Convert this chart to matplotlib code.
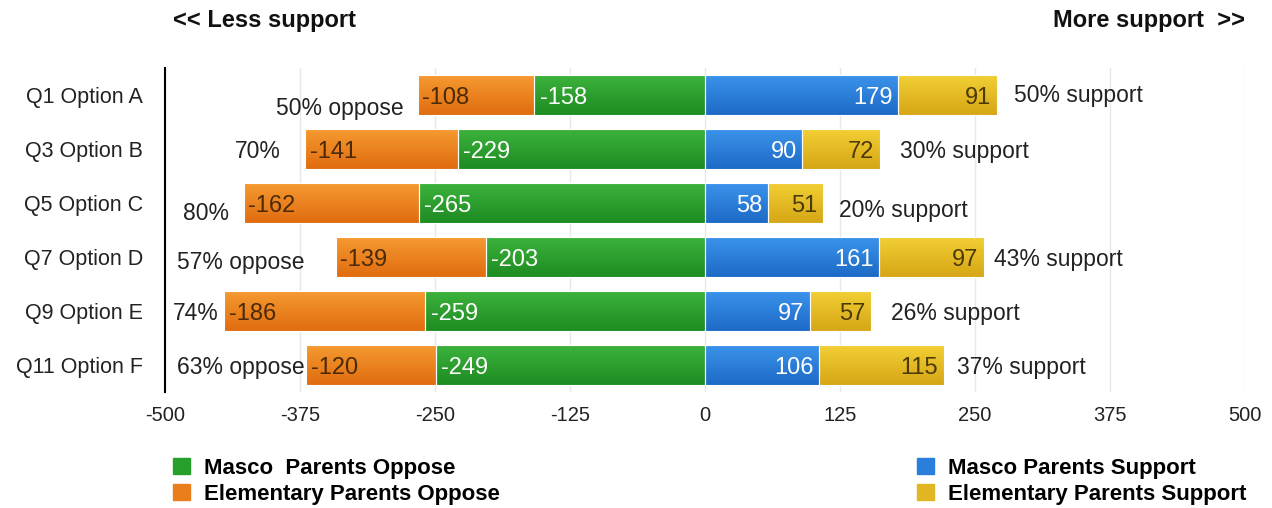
import matplotlib.pyplot as plt
import numpy as np
from matplotlib.patches import Patch
from matplotlib.colors import LinearSegmentedColormap

plt.rcParams['font.family'] = ['Liberation Sans', 'DejaVu Sans']

questions = ['Q1 Option A', 'Q3 Option B', 'Q5 Option C',
             'Q7 Option D', 'Q9 Option E', 'Q11 Option F']
masco_oppose = [-158, -229, -265, -203, -259, -249]
elem_oppose = [-108, -141, -162, -139, -186, -120]
masco_support = [179, 90, 58, 161, 97, 106]
elem_support = [91, 72, 51, 97, 57, 115]
oppose_labels = ['50% oppose', '70%', '80%', '57% oppose', '74%', '63% oppose']
support_labels = ['50% support', '30% support', '20% support',
                  '43% support', '26% support', '37% support']
ticks = [-500, -375, -250, -125, 0, 125, 250, 375, 500]

# hand placed annotation anchors (data units), as in the source chart
oppose_x = [-279, -393, -441, -371, -450, -371]
oppose_dy = [0.2, 0, 0.15, 0.05, 0, 0]
support_x = [286, 181, 124, 268, 172, 233]
support_dy = [-0.03, 0, 0.09, 0, 0, 0]

# (top, bottom) shades of the gradient fill
c_green = ('#3cb23c', '#1e8c22')
c_orange = ('#f59a30', '#e06c10')
c_blue = ('#3b93ea', '#1d6ac6')
c_yellow = ('#f2cf34', '#d6a616')

fig = plt.figure(figsize=(12.72, 5.08), dpi=100)
ax = fig.add_axes([165 / 1272, 1 - 392 / 508, 1080 / 1272, 324 / 508])

y = list(range(len(questions)))
h = 0.74
grad = np.linspace(0, 1, 64).reshape(-1, 1)


def shaded_bars(vals, left, cols):
    bars = ax.barh(y, vals, left=left, height=h, color=cols[1], edgecolor='white', linewidth=0.8)
    cmap = LinearSegmentedColormap.from_list('g', list(cols))
    for p in bars:
        x0, y0, w, hh = p.get_x(), p.get_y(), p.get_width(), p.get_height()
        ax.imshow(grad, extent=(x0, x0 + w, y0 + hh, y0), cmap=cmap, aspect='auto',
                  origin='upper', zorder=2, interpolation='bilinear')
        p.set_facecolor('none')
        p.set_zorder(2.5)


shaded_bars(masco_oppose, None, c_green)
shaded_bars(elem_oppose, masco_oppose, c_orange)
shaded_bars(masco_support, None, c_blue)
shaded_bars(elem_support, masco_support, c_yellow)

fs = 17
for i in y:
    mo, eo, ms, es = masco_oppose[i], elem_oppose[i], masco_support[i], elem_support[i]
    ax.text(mo + 5, i, str(mo), color='white', fontsize=fs, va='center_baseline', ha='left', zorder=3)
    ax.text(mo + eo + 4, i, str(eo), color='#4a2a08', fontsize=fs, va='center_baseline', ha='left', zorder=3)
    ax.text(ms - 5, i, str(ms), color='white', fontsize=fs, va='center_baseline', ha='right', zorder=3)
    ax.text(ms + es - 5, i, str(es), color='#4a3a08', fontsize=fs, va='center_baseline', ha='right', zorder=3)
    ax.text(oppose_x[i], i + oppose_dy[i], oppose_labels[i], color='#222222', fontsize=16.5,
            va='center_baseline', ha='right', zorder=3)
    ax.text(support_x[i], i + support_dy[i], support_labels[i], color='#222222', fontsize=16.5,
            va='center_baseline', ha='left', zorder=3)

ax.set_xlim(-500, 500)
ax.set_ylim(len(questions) - 0.5, -0.5)
ax.set_yticks(y)
ax.set_yticklabels(questions, fontsize=15.5, color='#222222')
ax.set_xticks(ticks)
ax.set_xticklabels([str(t) for t in ticks], fontsize=14.5, color='#222222')
ax.tick_params(axis='y', length=0, pad=16)
ax.tick_params(axis='x', length=0, pad=10)
ax.grid(axis='x', color='#e8e8e8', linewidth=1, zorder=0)
ax.set_axisbelow(True)
for s in ['top', 'right', 'bottom']:
    ax.spines[s].set_visible(False)
ax.spines['left'].set_linewidth(1.5)
ax.spines['left'].set_color('black')

fig.text(173 / 1272, 1 - 21 / 508, '<< Less support', fontsize=17, fontweight='bold',
         ha='left', va='center', color='#111111')
fig.text(1245 / 1272, 1 - 21 / 508, 'More support  >>', fontsize=17, fontweight='bold',
         ha='right', va='center', color='#111111')

lp = dict(size=16, weight='bold')
leg_kw = dict(loc='upper left', frameon=False, prop=lp, handlelength=0.75, handleheight=0.75,
              handletextpad=0.65, labelspacing=0.22, borderaxespad=0)
fig.legend(handles=[Patch(color='#26a02a', label='Masco  Parents Oppose'),
                    Patch(color='#ea7e1c', label='Elementary Parents Oppose')],
           bbox_to_anchor=(164 / 1272, 1 - 449 / 508), **leg_kw)
fig.legend(handles=[Patch(color='#2a7fdc', label='Masco Parents Support'),
                    Patch(color='#e2b622', label='Elementary Parents Support')],
           bbox_to_anchor=(908 / 1272, 1 - 449 / 508), **leg_kw)

fig.savefig('out.png', dpi=100)
